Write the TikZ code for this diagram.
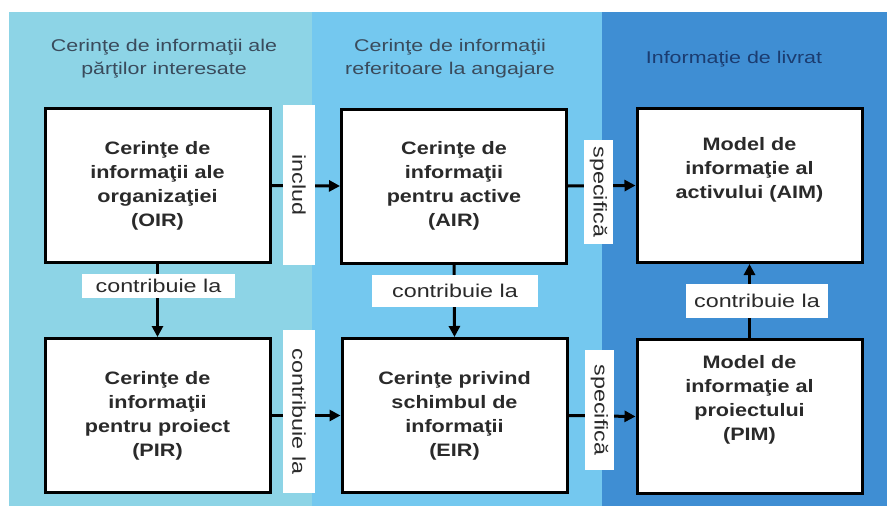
\documentclass[tikz,border=0pt]{standalone}
\usepackage{fontspec}
\setmainfont{Liberation Sans}
\newfontfamily\widefont{Liberation Sans}[FakeStretch=1.26]
\usetikzlibrary{arrows.meta}

\definecolor{colA}{HTML}{8DD4E6}
\definecolor{colB}{HTML}{74C8EF}
\definecolor{colC}{HTML}{3F8ED3}
\definecolor{headgray}{HTML}{3A4B5C}
\definecolor{headnavy}{HTML}{1B3C70}
\definecolor{ink}{HTML}{2A2A2A}

% bold box captions, widened horizontally
\newcommand\boxlines[1]{\scalebox{1.2}[1]{\begin{tabular}{@{}c@{}}#1\end{tabular}}}

\tikzset{
  box/.style={draw=black, line width=3pt, fill=white, minimum width=225pt,
    minimum height=154pt, inner sep=0pt},
  boxtext/.style={font=\fontsize{18}{24}\selectfont\bfseries, text=ink},
  tag/.style={fill=white, inner sep=0pt, font=\widefont\fontsize{18.5}{20}\selectfont, text=ink},
  vtag/.style={tag, rotate=-90},
  arr/.style={draw=black, line width=3pt, -{Triangle[length=11pt,width=11pt]}},
  head/.style={font=\widefont\fontsize{17}{23}\selectfont, align=center},
}

\begin{document}
\begin{tikzpicture}[x=1pt, y=-1pt]
  \useasboundingbox (0,0) rectangle (887,506);
  \fill[white] (0,0) rectangle (887,506);

  % column bands
  \fill[colA] (9,12) rectangle (312,506);
  \fill[colB] (312,12) rectangle (602,506);
  \fill[colC] (602,12) rectangle (887,506);

  % column headings
  \node[head, text=headgray] (h1) at (164,59) {Cerinţe de informaţii ale\\părţilor interesate};
  \node[head, text=headgray] (h2) at (450,59) {Cerinţe de informaţii\\referitoare la angajare};
  \node[head, text=headnavy] (h3) at (734,59) {Informaţie de livrat};

  % requirement boxes
  \node[box, boxtext] (oir) at (157.5,185.5) {\boxlines{Cerinţe de\\informaţii ale\\organizaţiei\\(OIR)}};
  \node[box, boxtext] (air) at (454,186) {\boxlines{Cerinţe de\\informaţii\\pentru active\\(AIR)}};
  \node[box] (aim) at (749.5,185.5) {};
  \node[boxtext] (aimtext) at (749.5,170) {\boxlines{Model de\\informaţie al\\activului (AIM)}};
  \node[box, boxtext] (pir) at (157.5,415.5) {\boxlines{Cerinţe de\\informaţii\\pentru proiect\\(PIR)}};
  \node[box, boxtext] (eir) at (454.5,415.5) {\boxlines{Cerinţe privind\\schimbul de\\informaţii\\(EIR)}};
  \node[box] (pim) at (749.5,416.5) {};
  \node[boxtext] (pimtext) at (749.5,400) {\boxlines{Model de\\informaţie al\\proiectului\\(PIM)}};

  % relations
  \draw[arr] (oir.east) -- (air.west);
  \draw[arr] (air.east) -- (aim.west);
  \draw[arr] (oir.south) -- (pir.north);
  \draw[arr] (air.south) -- (eir.north);
  \draw[arr] (pim.north) -- (aim.south);
  \draw[arr] (pir.east) -- (eir.west);
  \draw[arr] (eir.east) -- (pim.west);

  % relation labels
  \node[vtag, minimum width=160pt, minimum height=32pt] (l1) at (299,185) {includ};
  \node[vtag, minimum width=104pt, minimum height=29pt] (l2) at (598.5,192) {specifică};
  \node[tag, minimum width=153pt, minimum height=24pt] (l3) at (158.5,286) {contribuie la};
  \node[tag, minimum width=166pt, minimum height=32pt] (l4) at (455,291) {contribuie la};
  \node[tag, minimum width=142pt, minimum height=34pt] (l5) at (757,301) {contribuie la};
  \node[vtag, minimum width=163pt, minimum height=32pt] (l6) at (299,411.5) {contribuie la};
  \node[vtag, minimum width=120pt, minimum height=29pt] (l7) at (599.5,410) {specifică};
\end{tikzpicture}
\end{document}
